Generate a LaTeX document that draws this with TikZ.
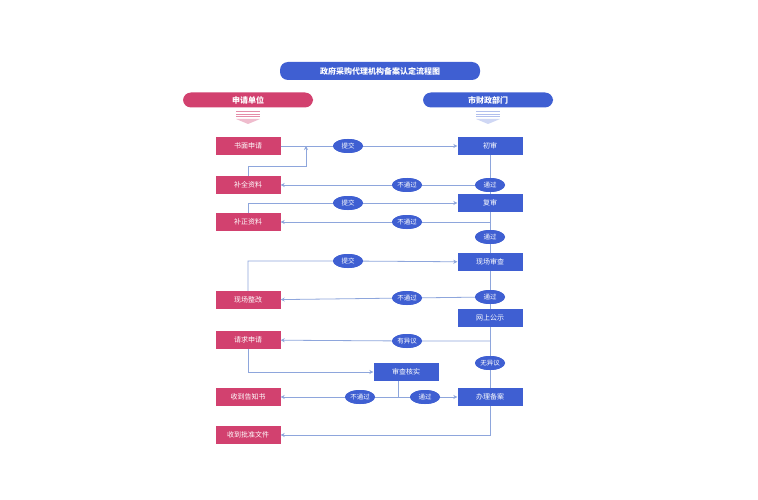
\documentclass[tikz,border=0pt]{standalone}
\usepackage{fontspec}
\setmainfont{Noto Sans CJK SC}
\usetikzlibrary{positioning,shapes.geometric,arrows.meta}

\definecolor{rosa}{HTML}{D2416F}
\definecolor{blau}{HTML}{3F5FD2}
\definecolor{linie}{HTML}{8EA6DC}

\tikzset{
  applybox/.style={fill=rosa, text=white, minimum width=65pt, minimum height=18pt, inner sep=0pt, font=\fontsize{7}{8}\selectfont},
  officebox/.style={applybox, fill=blau},
  headbox/.style={rounded corners=8pt, text=white, minimum height=15pt, minimum width=130pt, inner sep=0pt, font=\fontsize{8}{9}\selectfont\bfseries},
  tag/.style={ellipse, fill=blau, text=white, inner sep=0pt, minimum width=30pt, minimum height=14pt, font=\fontsize{6.5}{7}\selectfont},
  flow/.style={draw=linie, line width=0.8pt},
  flowarrow/.style={flow, -{Stealth[length=4pt,width=4pt]}}
}

\newcommand{\stripes}[3]{%
  \begin{scope}[shift={#1}]
    \foreach \k in {0,1,2}
      \fill[#2] (-12,{-6+2.6*\k}) rectangle (12,{-4.8+2.6*\k});
    \fill[#3] (-12,2) -- (12,2) -- (0,7) -- cycle;
  \end{scope}}

\begin{document}
\begin{tikzpicture}[x=1pt, y=-1pt]
  \useasboundingbox[fill=white] (0,0) rectangle (758,500);

  % headers
  \node[headbox, fill=blau, minimum width=200pt, minimum height=18pt] (title) at (380,71) {政府采购代理机构备案认定流程图};
  \node[headbox, fill=rosa] (apphead) at (248,100) {申请单位};
  \node[headbox, fill=blau] (offhead) at (488,100) {市财政部门};
  \stripes{(248,117)}{rosa!60}{rosa!35}
  \stripes{(488,117)}{blau!40}{blau!25}

  % applicant side
  \node[applybox] (written) at (248,146) {书面申请};
  \node[applybox] (supply) at (248,185) {补全资料};
  \node[applybox] (correct) at (248,222) {补正资料};
  \node[applybox] (rectify) at (248,300) {现场整改};
  \node[applybox] (request) at (248,340) {请求申请};
  \node[applybox] (notice) at (248,397) {收到告知书};
  \node[applybox] (approval) at (248,435) {收到批准文件};

  % office side
  \node[officebox] (first) at (490,146) {初审};
  \node[officebox] (second) at (490,203) {复审};
  \node[officebox] (onsite) at (490,262) {现场审查};
  \node[officebox] (publish) at (490,318) {网上公示};
  \node[officebox] (check) at (406,372) {审查核实};
  \node[officebox] (record) at (490,397) {办理备案};

  % labels on the lines
  \node[tag] (sub1) at (348,146) {提交};
  \node[tag] (pass1) at (490,185) {通过};
  \node[tag] (fail1) at (407,185) {不通过};
  \node[tag] (sub2) at (348,203) {提交};
  \node[tag] (fail2) at (407,222) {不通过};
  \node[tag] (pass2) at (490,237) {通过};
  \node[tag] (sub3) at (348,261) {提交};
  \node[tag] (pass3) at (490,297) {通过};
  \node[tag] (fail3) at (407,298) {不通过};
  \node[tag] (object) at (407,341) {有异议};
  \node[tag] (noobj) at (490,363) {无异议};
  \node[tag] (fail4) at (360,397) {不通过};
  \node[tag] (pass4) at (425,397) {通过};

  \coordinate (joinA) at (306,146);
  \coordinate (joinB) at (490,222);
  \coordinate (joinC) at (490,341);
  \coordinate (joinD) at (398,397);

  % connectors
  \draw[flowarrow] (written) -- (sub1) -- (first);
  \draw[flow] (first) -- (pass1) -- (second);
  \draw[flowarrow] (pass1) -- (fail1) -- (supply);
  \draw[flowarrow] (supply.north) |- (306,166) -- (joinA);
  \draw[flowarrow] (correct.north) |- (sub2) -- (second);
  \draw[flowarrow] (joinB) -- (fail2) -- (correct);
  \draw[flow] (second) -- (pass2) -- (onsite);
  \draw[flowarrow] (rectify.north) |- (sub3) -- (onsite);
  \draw[flow] (onsite) -- (pass3) -- (publish);
  \draw[flowarrow] (pass3) -- (fail3) -- (rectify);
  \draw[flow] (publish) -- (noobj) -- (record);
  \draw[flowarrow] (joinC) -- (object) -- (request);
  \draw[flowarrow] (request.south) |- (check.west);
  \draw[flow] (check.south -| joinD) -- (joinD);
  \draw[flowarrow] (joinD) -- (fail4) -- (notice);
  \draw[flowarrow] (joinD) -- (pass4) -- (record);
  \draw[flowarrow] (record.south) |- (approval);

  % redraw labels on top
  \foreach \t/\s in {sub1/提交, pass1/通过, fail1/不通过, sub2/提交, fail2/不通过, pass2/通过, sub3/提交, pass3/通过, fail3/不通过, object/有异议, noobj/无异议, fail4/不通过, pass4/通过}
    \node[tag] at (\t) {\s};
\end{tikzpicture}
\end{document}
